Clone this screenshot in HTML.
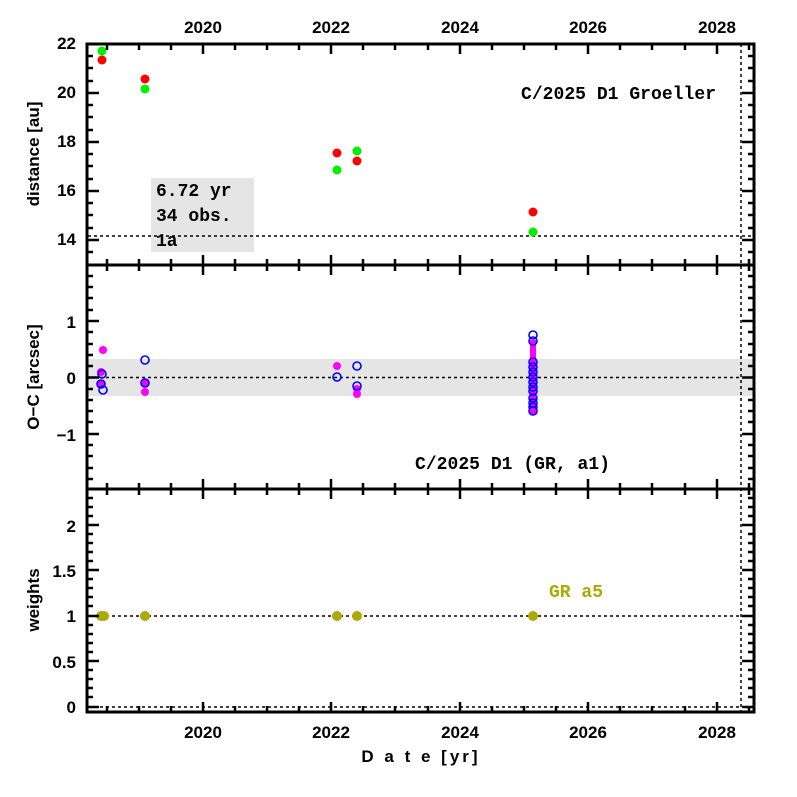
<!DOCTYPE html>
<html><head><meta charset="utf-8"><style>body{margin:0;background:#fff}svg{display:block}</style></head><body>
<svg width="797" height="797" xmlns="http://www.w3.org/2000/svg" font-family="Liberation Sans, sans-serif">
<rect width="797" height="797" fill="#fff"/>
<rect x="88" y="359" width="666" height="37" fill="#e5e5e5"/>
<rect x="151" y="178" width="103" height="74" fill="#e5e5e5"/>
<g stroke="#000" stroke-width="1.5" stroke-dasharray="3,3" fill="none">
<line x1="88" y1="236" x2="754" y2="236"/>
<line x1="88" y1="377.5" x2="754" y2="377.5"/>
<line x1="88" y1="616" x2="754" y2="616"/>
<line x1="88" y1="707" x2="754" y2="707"/>
<line x1="741" y1="44" x2="741" y2="712"/>
</g>
<g stroke="#000" stroke-width="3" fill="none">
<rect x="87" y="44" width="667" height="668"/>
<line x1="87" y1="265" x2="754" y2="265"/>
<line x1="87" y1="489" x2="754" y2="489"/>
</g>
<g fill="#ff0000">
<circle cx="102" cy="60" r="4.5"/><circle cx="145" cy="79" r="4.5"/><circle cx="337" cy="153" r="4.5"/><circle cx="357" cy="161" r="4.5"/><circle cx="533" cy="212" r="4.5"/>
</g>
<g fill="#00ee00">
<circle cx="102" cy="51" r="4.5"/><circle cx="145" cy="89" r="4.5"/><circle cx="337" cy="170" r="4.5"/><circle cx="357" cy="151" r="4.5"/><circle cx="533" cy="232" r="4.5"/>
</g>
<g fill="#ff00ff">
<circle cx="103" cy="350" r="4"/><circle cx="101" cy="372" r="4"/><circle cx="101" cy="384" r="4"/><circle cx="145" cy="392" r="4"/><circle cx="145" cy="383" r="4"/><circle cx="337" cy="366" r="4"/><circle cx="357" cy="394" r="4"/><circle cx="357" cy="389" r="4"/>
<rect x="530" y="340" width="6" height="72"/>
</g>
<g fill="none" stroke="#0000ff" stroke-width="1.6">
<circle cx="102" cy="374" r="4"/><circle cx="101" cy="384" r="4"/><circle cx="103" cy="390" r="4"/><circle cx="145" cy="360" r="4"/><circle cx="145" cy="383" r="4"/><circle cx="337" cy="377" r="4"/><circle cx="357" cy="366" r="4"/><circle cx="357" cy="386" r="4"/>
<circle cx="533" cy="335" r="4"/><circle cx="533" cy="341" r="4"/><circle cx="533" cy="362" r="4"/><circle cx="533" cy="367" r="4"/><circle cx="533" cy="372" r="4"/><circle cx="533" cy="377" r="4"/><circle cx="533" cy="382" r="4"/><circle cx="533" cy="387" r="4"/><circle cx="533" cy="391" r="4"/><circle cx="533" cy="398" r="4"/><circle cx="533" cy="403" r="4"/><circle cx="533" cy="407" r="4"/>
</g>
<circle cx="533" cy="411" r="4" fill="#ff00ff" stroke="#0000ff" stroke-width="1.6"/>
<g fill="#aaaa00">
<circle cx="101" cy="616" r="5"/><circle cx="104" cy="616" r="5"/><circle cx="145" cy="616" r="5"/><circle cx="337" cy="616" r="5"/><circle cx="357" cy="616" r="5"/><circle cx="533" cy="616" r="5"/>
</g>
<g font-weight="bold" font-size="17" text-anchor="middle" fill="#000">
<text x="203" y="33">2020</text><text x="331" y="33">2022</text><text x="460" y="33">2024</text><text x="588" y="33">2026</text><text x="717" y="33">2028</text>
<text x="203" y="738">2020</text><text x="331" y="738">2022</text><text x="460" y="738">2024</text><text x="588" y="738">2026</text><text x="717" y="738">2028</text>
</g>
<g font-weight="bold" font-size="17" text-anchor="end" fill="#000">
<text x="76" y="49">22</text><text x="76" y="98">20</text><text x="76" y="147">18</text><text x="76" y="196">16</text><text x="76" y="245">14</text>
<text x="76" y="328">1</text><text x="76" y="384">0</text><text x="76" y="441">−1</text>
<text x="76" y="532">2</text><text x="76" y="577">1.5</text><text x="76" y="622">1</text><text x="76" y="668">0.5</text><text x="76" y="713">0</text>
</g>
<g font-weight="bold" font-size="17" fill="#000" text-anchor="middle">
<text transform="translate(39,154) rotate(-90)">distance [au]</text>
<text transform="translate(39,377) rotate(-90)">O−C [arcsec]</text>
<text transform="translate(39,600) rotate(-90)">weights</text>
<text x="421" y="762" letter-spacing="3">D a t e [yr]</text>
</g>
<g font-family="Liberation Mono, monospace" font-size="18" font-weight="bold" fill="#000">
<text x="521" y="99" textLength="195">C/2025 D1 Groeller</text>
<text x="415" y="469" textLength="195">C/2025 D1 (GR, a1)</text>
<text x="156" y="196">6.72 yr</text>
<text x="156" y="221">34 obs.</text>
<text x="156" y="246">1a</text>
<text x="549" y="597" fill="#aaaa00">GR a5</text>
</g>
<g stroke="#000" stroke-width="2.5">
<path d="
M203,44v10M331,44v10M460,44v10M588,44v10M717,44v10
M203,712v-10M331,712v-10M460,712v-10M588,712v-10M717,712v-10
M203,265v-10M331,265v-10M460,265v-10M588,265v-10M717,265v-10
M203,265v10M331,265v10M460,265v10M588,265v10M717,265v10
M203,489v-10M331,489v-10M460,489v-10M588,489v-10M717,489v-10
M203,489v10M331,489v10M460,489v10M588,489v10M717,489v10
M107,44v6M139,44v6M171,44v6M235,44v6M267,44v6M299,44v6M363,44v6M395,44v6M428,44v6M492,44v6M524,44v6M556,44v6M620,44v6M652,44v6M685,44v6M749,44v6
M107,712v-6M139,712v-6M171,712v-6M235,712v-6M267,712v-6M299,712v-6M363,712v-6M395,712v-6M428,712v-6M492,712v-6M524,712v-6M556,712v-6M620,712v-6M652,712v-6M685,712v-6M749,712v-6
M107,265v-6M139,265v-6M171,265v-6M235,265v-6M267,265v-6M299,265v-6M363,265v-6M395,265v-6M428,265v-6M492,265v-6M524,265v-6M556,265v-6M620,265v-6M652,265v-6M685,265v-6M749,265v-6
M107,265v6M139,265v6M171,265v6M235,265v6M267,265v6M299,265v6M363,265v6M395,265v6M428,265v6M492,265v6M524,265v6M556,265v6M620,265v6M652,265v6M685,265v6M749,265v6
M107,489v-6M139,489v-6M171,489v-6M235,489v-6M267,489v-6M299,489v-6M363,489v-6M395,489v-6M428,489v-6M492,489v-6M524,489v-6M556,489v-6M620,489v-6M652,489v-6M685,489v-6M749,489v-6
M107,489v6M139,489v6M171,489v6M235,489v6M267,489v6M299,489v6M363,489v6M395,489v6M428,489v6M492,489v6M524,489v6M556,489v6M620,489v6M652,489v6M685,489v6M749,489v6
M87,44h12M87,93h12M87,142h12M87,191h12M87,240h12
M754,44h-12M754,93h-12M754,142h-12M754,191h-12M754,240h-12
M87,56h6M87,68h6M87,81h6M87,105h6M87,117h6M87,130h6M87,154h6M87,166h6M87,179h6M87,203h6M87,215h6M87,228h6M87,252h6
M754,56h-6M754,68h-6M754,81h-6M754,105h-6M754,117h-6M754,130h-6M754,154h-6M754,166h-6M754,179h-6M754,203h-6M754,215h-6M754,228h-6M754,252h-6
M87,321h12M87,377.5h12M87,434h12M754,321h-12M754,377.5h-12M754,434h-12
M87,276h6M87,287h6M87,298h6M87,310h6M87,332h6M87,344h6M87,355h6M87,366h6M87,389h6M87,400h6M87,411h6M87,422h6M87,445h6M87,456h6M87,468h6M87,479h6
M754,276h-6M754,287h-6M754,298h-6M754,310h-6M754,332h-6M754,344h-6M754,355h-6M754,366h-6M754,389h-6M754,400h-6M754,411h-6M754,422h-6M754,445h-6M754,456h-6M754,468h-6M754,479h-6
M87,525h12M87,570h12M87,616h12M87,661h12M87,707h12M754,525h-12M754,570h-12M754,616h-12M754,661h-12M754,707h-12
M87,498h6M87,507h6M87,516h6M87,534h6M87,543h6M87,552h6M87,561h6M87,579h6M87,588h6M87,597h6M87,606h6M87,625h6M87,634h6M87,643h6M87,652h6M87,670h6M87,679h6M87,688h6M87,697h6
M754,498h-6M754,507h-6M754,516h-6M754,534h-6M754,543h-6M754,552h-6M754,561h-6M754,579h-6M754,588h-6M754,597h-6M754,606h-6M754,625h-6M754,634h-6M754,643h-6M754,652h-6M754,670h-6M754,679h-6M754,688h-6M754,697h-6
"/>
</g>
</svg>
</body></html>
